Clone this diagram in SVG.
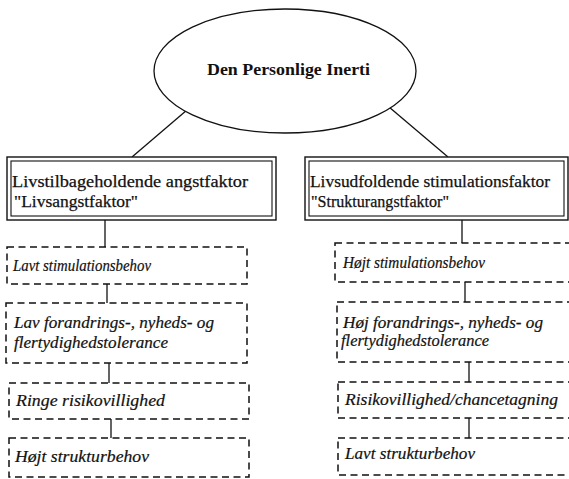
<svg xmlns="http://www.w3.org/2000/svg" width="569" height="479" viewBox="0 0 569 479">
<style>
.bg{fill:#fff}
.ell{fill:#fff;stroke:#111;stroke-width:1.3}
.outer{fill:#fff;stroke:#111;stroke-width:1.4}
.inner{fill:none;stroke:#111;stroke-width:1.1}
.dash{fill:#fff;stroke:#111;stroke-width:1.5;stroke-dasharray:7 4.5}
.ln{stroke:#111;stroke-width:1.3;fill:none}
.t{font-family:"Liberation Serif","Times New Roman",serif;font-size:17px;fill:#111;stroke:#111;stroke-width:0.25}
.b{font-family:"Liberation Serif","Times New Roman",serif;font-size:17px;font-weight:bold;fill:#111}
.i{font-family:"Liberation Serif","Times New Roman",serif;font-size:16.5px;font-style:italic;fill:#111;stroke:#111;stroke-width:0.2}
</style>
<rect class="bg" x="0" y="0" width="569" height="479"/>
<g id="connectors">
<line class="ln" x1="187" y1="110" x2="132" y2="157"/>
<line class="ln" x1="389" y1="107" x2="448" y2="157"/>
<line class="ln" x1="105" y1="220" x2="105" y2="247"/>
<line class="ln" x1="107" y1="284" x2="107" y2="303"/>
<line class="ln" x1="109" y1="363" x2="109" y2="383"/>
<line class="ln" x1="111" y1="419" x2="111" y2="438"/>
<line class="ln" x1="462" y1="220" x2="462" y2="243"/>
<line class="ln" x1="465" y1="282" x2="465" y2="302"/>
<line class="ln" x1="469" y1="362" x2="469" y2="382"/>
<line class="ln" x1="469" y1="418" x2="469" y2="438"/>
</g>
<g id="root">
<ellipse class="ell" cx="285" cy="71" rx="131" ry="62"/>
<text class="b" x="207" y="75" textLength="163" lengthAdjust="spacingAndGlyphs">Den Personlige Inerti</text>
</g>
<g id="left-factor">
<rect class="outer" x="7" y="157" width="269" height="63"/>
<rect class="inner" x="11" y="161" width="261" height="55"/>
<text class="t" x="12" y="187" textLength="236" lengthAdjust="spacingAndGlyphs">Livstilbageholdende angstfaktor</text>
<text class="t" x="14" y="207" textLength="124" lengthAdjust="spacingAndGlyphs">"Livsangstfaktor"</text>
</g>
<g id="right-factor">
<rect class="outer" x="305" y="157" width="263" height="63"/>
<rect class="inner" x="309" y="161" width="255" height="55"/>
<text class="t" x="310" y="187" textLength="240" lengthAdjust="spacingAndGlyphs">Livsudfoldende stimulationsfaktor</text>
<text class="t" x="311" y="207" textLength="138" lengthAdjust="spacingAndGlyphs">"Strukturangstfaktor"</text>
</g>
<g id="left-1">
<rect class="dash" x="7" y="247" width="240" height="37"/>
<text class="i" x="13" y="271" textLength="138" lengthAdjust="spacingAndGlyphs">Lavt stimulationsbehov</text>
</g>
<g id="left-2">
<rect class="dash" x="6" y="303" width="241" height="60"/>
<text class="i" x="14" y="328" textLength="200" lengthAdjust="spacingAndGlyphs">Lav forandrings-, nyheds- og</text>
<text class="i" x="14" y="348" textLength="154" lengthAdjust="spacingAndGlyphs">flertydighedstolerance</text>
</g>
<g id="left-3">
<rect class="dash" x="9" y="383" width="240" height="36"/>
<text class="i" x="16" y="406" textLength="149" lengthAdjust="spacingAndGlyphs">Ringe risikovillighed</text>
</g>
<g id="left-4">
<rect class="dash" x="9" y="438" width="240" height="39"/>
<text class="i" x="15" y="462" textLength="134" lengthAdjust="spacingAndGlyphs">Højt strukturbehov</text>
</g>
<g id="right-1">
<rect class="dash" x="335" y="243" width="250" height="39"/>
<text class="i" x="343" y="268" textLength="142" lengthAdjust="spacingAndGlyphs">Højt stimulationsbehov</text>
</g>
<g id="right-2">
<rect class="dash" x="337" y="302" width="250" height="60"/>
<text class="i" x="343" y="328" textLength="200" lengthAdjust="spacingAndGlyphs">Høj forandrings-, nyheds- og</text>
<text class="i" x="341" y="346" textLength="148" lengthAdjust="spacingAndGlyphs">flertydighedstolerance</text>
</g>
<g id="right-3">
<rect class="dash" x="338" y="382" width="250" height="36"/>
<text class="i" x="345" y="405" textLength="213" lengthAdjust="spacingAndGlyphs">Risikovillighed/chancetagning</text>
</g>
<g id="right-4">
<rect class="dash" x="338" y="438" width="250" height="37"/>
<text class="i" x="345" y="459" textLength="130" lengthAdjust="spacingAndGlyphs">Lavt strukturbehov</text>
</g>
</svg>
